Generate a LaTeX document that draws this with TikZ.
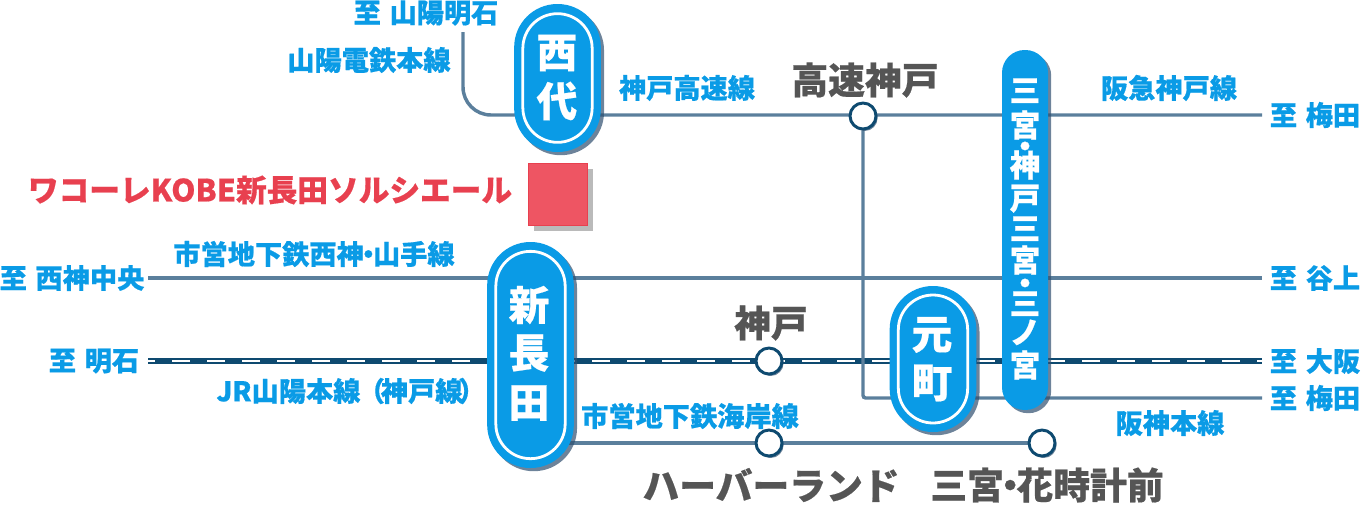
\documentclass[tikz,border=0pt]{standalone}
\usepackage{fontspec}
\usetikzlibrary{shadows,backgrounds}
\setmainfont{Noto Sans CJK JP}[BoldFeatures={FakeBold=0.5}]
\definecolor{cy}{HTML}{0A9BE6}
\definecolor{ln}{HTML}{5B7F9C}
\definecolor{dk}{HTML}{0E4A70}
\definecolor{gy}{HTML}{555555}
\definecolor{rd}{HTML}{E8404F}
\definecolor{sq}{HTML}{EE5563}
\definecolor{sh}{HTML}{2F4F6F}
\newcommand{\nd}{\hspace{-.33em}・\hspace{-.33em}}
\newcommand{\widesp}{\spaceskip=.32em\relax}
\tikzset{
 lbl/.style={font=\fontsize{20.4}{21}\selectfont\bfseries\widesp,text=cy,inner sep=0pt,anchor=center},
 sta/.style={font=\fontsize{27.6}{28}\selectfont\bfseries,text=gy,inner sep=0pt,anchor=center},
 pch/.style={font=\fontsize{30.5}{31}\selectfont\bfseries,text=white,inner sep=0pt,anchor=center},
 vch/.style={font=\fontsize{23}{24}\selectfont\bfseries,text=white,inner sep=0pt,anchor=center,text height=17.5pt,text depth=0pt},
 vdot/.style={font=\fontsize{23}{24}\selectfont\bfseries,text=white,inner sep=0pt,anchor=center,text height=0pt,text depth=0pt,yshift=-8.7pt},
 track/.style={draw=ln,line width=2.6pt},
 shad/.style={general shadow={fill=sh,opacity=.7,shadow xshift=2.4pt,shadow yshift=-2.4pt}},
 pill/.style={fill=cy,rounded corners=32.4pt,inner sep=0pt,minimum width=65pt,shad},
 pillin/.style={draw=white,line width=2.1pt,rounded corners=26pt,inner sep=0pt,minimum width=52pt},
 slim/.style={fill=cy,rounded corners=17pt,inner sep=0pt,minimum width=34.5pt,minimum height=270pt,shad},
 stop/.style={circle,draw=dk,fill=white,line width=2.2pt,minimum size=19.5pt,inner sep=0pt,general shadow={fill=sh,opacity=.7,shadow xshift=1.2pt,shadow yshift=-1.5pt}},
 sqr/.style={fill=sq,draw=rd,line width=.5pt,minimum width=44.2pt,minimum height=46.5pt,inner sep=0pt,general shadow={fill=black,opacity=.27,shadow xshift=4.6pt,shadow yshift=-4.6pt}}
}
\begin{document}
\begin{tikzpicture}[x=0.75pt,y=-0.75pt]
\useasboundingbox (0,0) rectangle (1362,504);
\coordinate (a1) at (463,32);
\coordinate (a2) at (1262,115);
\coordinate (b1) at (148,278);
\coordinate (b2) at (1262,278);
\coordinate (c1) at (148,361);
\coordinate (c2) at (1262,361);
\coordinate (d2) at (1262,398);
\node[stop] (kosoku) at (863,116) {};
\node[stop] (kobe) at (769,361) {};
\node[stop] (harbor) at (769,443) {};
\node[stop] (hanadoke) at (1042,443) {};
\node[sqr] (shop) at (557.5,194) {};
\node[pill,minimum height=111pt] (nishi) at (557.5,78) {};
\node[pill,minimum height=169.5pt] (shin) at (530.5,355) {};
\node[pill,minimum height=109.5pt] (moto) at (933,359) {};
\node[slim] (san) at (1025,230) {};
\node[pillin,minimum height=96.5pt] at (nishi) {};
\node[pillin,minimum height=155.5pt] at (shin) {};
\node[pillin,minimum height=96pt] at (moto) {};
\begin{scope}[on background layer]
\draw[track,rounded corners=21pt] (a1) -- (463,115) -- (a2);
\draw[track] (b1) -- (b2);
\draw[dk,line width=4.3pt] (c1) -- (c2);
\draw[white,line width=1.9pt,dash pattern=on 13.5pt off 12.75pt,dash phase=8.25pt] (c1) -- (c2);
\draw[track,rounded corners=2pt] (kosoku) -- (kosoku |- d2) -- (d2);
\draw[track] (shin |- harbor) -- (harbor) -- (hanadoke);
\end{scope}
\node[pch] (s1) at (557,53) {西};
\node[pch] (s2) at (557,101) {代};
\node[pch] (s3) at (529,305) {新};
\node[pch] (s4) at (529,353) {長};
\node[pch] (s5) at (529,403) {田};
\node[pch] (s6) at (932,335) {元};
\node[pch] (s7) at (932,383) {町};
\node[vch] (v1) at (1025,90) {三};
\node[vch] (v2) at (1025,125) {宮};
\node[vdot] (v3) at (1025,146) {・};
\node[vch] (v4) at (1025,165) {神};
\node[vch] (v5) at (1025,198) {戸};
\node[vch] (v6) at (1025,228) {三};
\node[vch] (v7) at (1025,260) {宮};
\node[vdot] (v8) at (1025,283) {・};
\node[vch] (v9) at (1025,303) {三};
\node[vch] (v10) at (1025,332) {ノ};
\node[vch] (v11) at (1025,365) {宮};
\node[lbl] (l1) at (426,13) {至 山陽明石};
\node[lbl] (l2) at (369,60) {山陽電鉄本線};
\node[lbl] (l3) at (687,88) {神戸高速線};
\node[lbl] (l4) at (1169,88) {阪急神戸線};
\node[lbl] (l5) at (1315,115) {至 梅田};
\node[lbl] (l6) at (314,254) {市営地下鉄西神\nd 山手線};
\node[lbl] (l7) at (72,278) {至 西神中央};
\node[lbl] (l8) at (1315,278) {至 谷上};
\node[lbl] (l9) at (94,361) {至 明石};
\node[lbl] (l10) at (1315,361) {至 大阪};
\node[lbl] (l11) at (351,391) {JR山陽本線\hspace{-.1em}（\hspace{-.15em}神戸線\hspace{-.15em}）\hspace{-.1em}};
\node[lbl] (l12) at (1315,398) {至 梅田};
\node[lbl] (l13) at (690,416) {市営地下鉄海岸線};
\node[lbl] (l14) at (1170,423) {阪神本線};
\node[sta] (t1) at (865,80) {高速神戸};
\node[sta] (t2) at (771,323) {神戸};
\node[sta] (t3) at (771,485) {ハーバーランド};
\node[sta] (t4) at (1047,485) {三宮\nd 花時計前};
\node[font=\fontsize{23}{24}\selectfont\bfseries,text=rd,inner sep=0pt] (t5) at (270,190) {ワコーレKOBE新長田ソルシエール};
\end{tikzpicture}
\end{document}
